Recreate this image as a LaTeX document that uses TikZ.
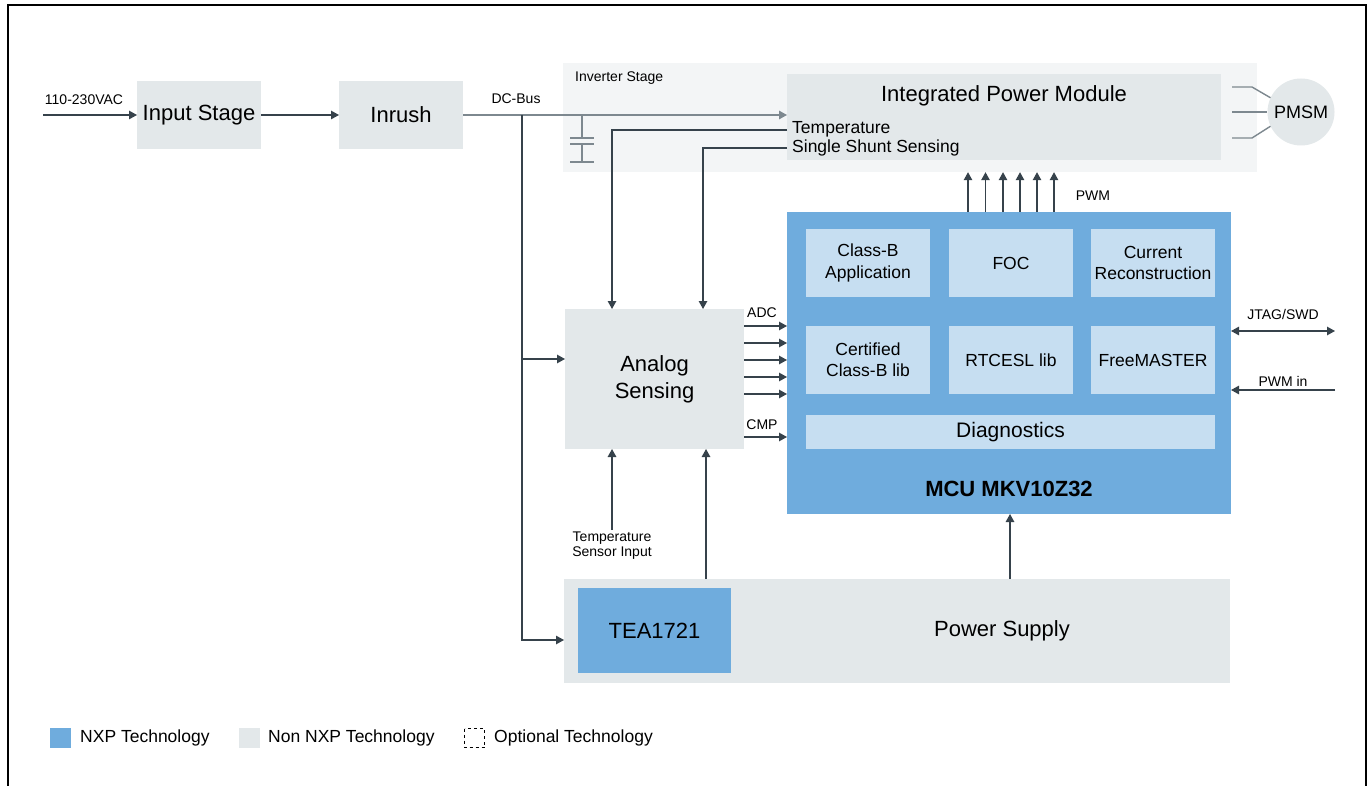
\documentclass[tikz,border=0pt]{standalone}
\usepackage{fontspec}
\setmainfont{Liberation Sans}
\usetikzlibrary{arrows.meta,calc}
\definecolor{boxgray}{HTML}{E3E8EA}
\definecolor{invbg}{HTML}{F3F5F6}
\definecolor{nxpblue}{HTML}{6FACDD}
\definecolor{liteblue}{HTML}{C6DEF1}
\definecolor{darkln}{HTML}{36424B}
\definecolor{grayln}{HTML}{7D888F}
\newcommand{\fsz}[1]{\fontsize{#1}{\fpeval{#1*1.22}}\selectfont}
\begin{document}
\begin{tikzpicture}[x=1pt,y=-1pt,
  blk/.style={fill=boxgray,inner sep=0pt,outer sep=0pt,align=center},
  nxp/.style={fill=nxpblue,inner sep=0pt,outer sep=0pt,align=center},
  sub/.style={fill=liteblue,inner sep=0pt,outer sep=0pt,align=center,font=\fsz{17.5}},
  big/.style={font=\fsz{22}},
  lbl/.style={font=\fsz{14},inner sep=0pt},
  arr/.style={draw=darkln,line width=1.2pt,-{Triangle[length=8pt,width=8.5pt]},darkln},
  darr/.style={draw=darkln,line width=1.2pt,{Triangle[length=8pt,width=8.5pt]}-{Triangle[length=8pt,width=8.5pt]},darkln},
  gln/.style={draw=grayln,line width=1.4pt},
  dln/.style={draw=darkln,line width=1.2pt}]
\useasboundingbox (0,0) rectangle (1370,786);
\fill[white] (0,0) rectangle (1370,786);
% frame
\draw[line width=2pt,black] (8,786) -- (8,5) -- (1366,5) -- (1366,786);

% inverter stage background
\node[fill=invbg,inner sep=0pt,minimum width=694pt,minimum height=109pt] (inv) at (910,117.5) {};
\node[lbl,anchor=west] (invlbl) at (575,78) {Inverter Stage};

% boxes
\node[blk,big,minimum width=124pt,minimum height=68pt] (inp) at (199,115) {Input Stage};
\node[blk,big,minimum width=124pt,minimum height=68pt] (inr) at (401,115) {Inrush};
\node[blk,minimum width=434pt,minimum height=86pt] (ipm) at (1004,117) {};
\node[big] (ipmt) at (1004,96) {Integrated Power Module};
\node[font=\fsz{17.5},inner sep=0pt,anchor=west] (tmp) at (792,129) {Temperature};
\node[font=\fsz{17.5},inner sep=0pt,anchor=west] (shs) at (792,148) {Single Shunt Sensing};
\node[circle,fill=boxgray,inner sep=0pt,minimum size=67pt,font=\fsz{18}] (pmsm) at (1301,112) {PMSM};

\node[nxp,minimum width=444pt,minimum height=302pt] (mcu) at (1009,363) {};
\node[font=\bfseries\fsz{22}] (mcut) at (1009,489) {MCU MKV10Z32};
\node[sub,minimum width=124pt,minimum height=68pt] (cba) at (868,263) {Class-B\\Application};
\node[sub,minimum width=124pt,minimum height=68pt] (foc) at (1011,263) {FOC};
\node[sub,minimum width=124pt,minimum height=68pt] (cur) at (1153,263) {Current\\Reconstruction};
\node[sub,minimum width=124pt,minimum height=68pt] (ccb) at (868,360) {Certified\\Class-B lib};
\node[sub,minimum width=124pt,minimum height=68pt] (rtc) at (1011,360) {RTCESL lib};
\node[sub,minimum width=124pt,minimum height=68pt] (fm) at (1153,360) {FreeMASTER};
\node[fill=liteblue,inner sep=0pt,minimum width=409pt,minimum height=34pt,font=\fsz{21}] (diag) at (1010.5,432) {Diagnostics};

\node[blk,big,minimum width=179pt,minimum height=140pt] (ana) at (654.5,379) {Analog\\Sensing};
\node[blk,minimum width=666pt,minimum height=104pt] (ps) at (897,631) {};
\node[big] (pst) at (1002,631) {Power Supply};
\node[nxp,big,minimum width=153pt,minimum height=85pt] (tea) at (654.5,630.5) {TEA1721};

% capacitor
\draw[gln] (582,115) -- (582,138) (570,138) -- (594,138) (570,144) -- (594,144) (582,144) -- (582,162) (570,162) -- (594,162);

% input chain
\coordinate (acin) at (43,115);
\draw[arr] (acin) -- (inp.west);
\node[lbl] (aclbl) at (84,100) {110-230VAC};
\draw[arr] (inp.east) -- (inr.west);
\draw[gln,-{Triangle[length=8pt,width=8.5pt]},grayln] (inr.east) -- (inr.east -| ipm.west);
\node[lbl] (dcl) at (516,99) {DC-Bus};

% bus branches
\coordinate (bj) at (522,115);
\draw[arr] (bj) |- ($(ps.west)+(0,9)$);
\coordinate (bj2) at (522,359);
\draw[arr] (bj2) -- (bj2 -| ana.west);

% temperature & shunt
\draw[arr] ($(ipm.west)+(0,13)$) -| ($(ana.north)+(-42.5,0)$);
\draw[arr] ($(ipm.west)+(0,31)$) -| ($(ana.north)+(48.5,0)$);

% PWM
\foreach \d [count=\i] in {-41,-23.5,-6,11,28,45}{
  \coordinate (pw\i) at ($(mcu.north)+(\d,0)$);
  \draw[arr] (pw\i) -- (pw\i |- inv.south);
}
\node[lbl] (pwml) at (1093,196) {PWM};

% ADC / CMP
\foreach \d [count=\i] in {-53,-36,-19,-2,15}{
  \coordinate (ad\i) at ($(ana.east)+(0,\d)$);
  \draw[arr] (ad\i) -- (ad\i -| mcu.west);
}
\coordinate (cmp) at ($(ana.east)+(0,58)$);
\draw[arr] (cmp) -- (cmp -| mcu.west);
\node[lbl] (adcl) at (762,313) {ADC};
\node[lbl] (cmpl) at (762,425) {CMP};

% temp sensor input
\coordinate (tsi) at (612,530);
\draw[draw=grayln,line width=1.4pt,-{Triangle[length=8pt,width=8.5pt]},darkln] (tsi) -- (tsi |- ana.south);
\node[lbl,align=center,font=\fontsize{14}{15}\selectfont] (tsil) at (612,546) {Temperature\\Sensor Input};

% power supply up
\coordinate (ps1) at ($(ps.north)+(-191,0)$);
\draw[arr] (ps1) -- (ps1 |- ana.south);
\coordinate (ps2) at ($(ps.north)+(113,0)$);
\draw[arr] (ps2) -- (ps2 |- mcu.south);

% PMSM lines
\draw[gln] ($(ipm.east)+(11,-30)$) -- ++(20,0) -- (pmsm.155);
\draw[gln] (pmsm.west -| ipm.east) ++(11,0) -- (pmsm.west);
\draw[gln] ($(ipm.east)+(11,21)$) -- ++(20,0) -- (pmsm.205);

% JTAG / PWM in
\coordinate (jt) at (1335,331);
\draw[darr] (jt -| mcu.east) -- (jt);
\node[lbl] (jtl) at (1283,314) {JTAG/SWD};
\coordinate (pin) at (1335,390);
\draw[arr] (pin) -- (pin -| mcu.east);
\node[lbl] (pinl) at (1283,381) {PWM in};

% legend
\fill[nxpblue] (50,728) rectangle (71,748);
\node[font=\fsz{17.5},inner sep=0pt,anchor=west] (lg1) at (80,738) {NXP Technology};
\fill[boxgray] (239,728) rectangle (260,748);
\node[font=\fsz{17.5},inner sep=0pt,anchor=west] (lg2) at (268,738) {Non NXP Technology};
\draw[black,line width=0.8pt,dash pattern=on 3pt off 3pt] (464.5,728.5) rectangle (484.5,747.5);
\node[font=\fsz{17.5},inner sep=0pt,anchor=west] (lg3) at (494,738) {Optional Technology};
\end{tikzpicture}
\end{document}
